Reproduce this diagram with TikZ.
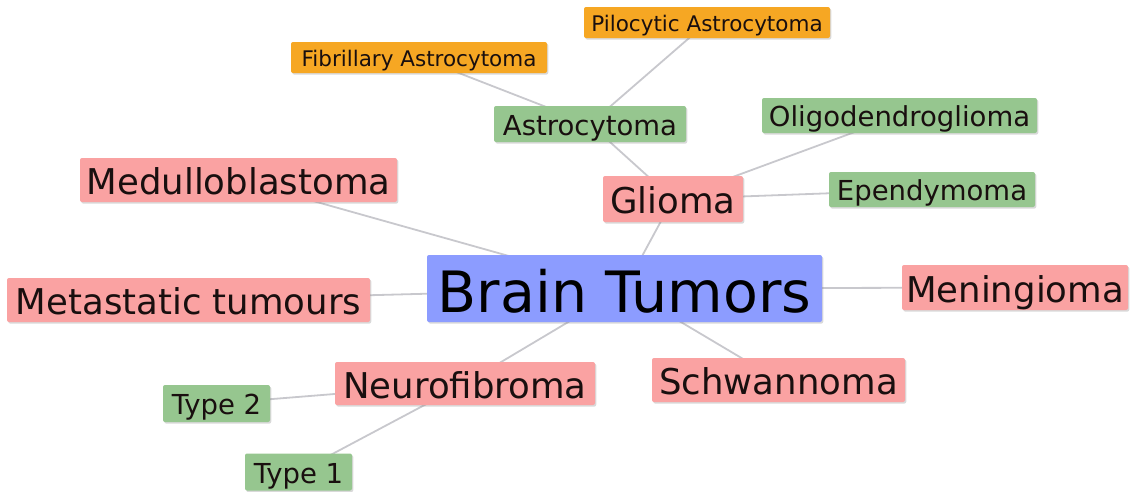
\documentclass[tikz,border=0pt]{standalone}
\usepackage{fontspec}
\setmainfont{DejaVu Sans}
\usetikzlibrary{shadows,backgrounds}
\definecolor{redbox}{RGB}{250,162,162}
\definecolor{greenbox}{RGB}{150,198,143}
\definecolor{orangebox}{RGB}{246,167,35}
\definecolor{bluebox}{RGB}{140,156,255}
\definecolor{edgegray}{RGB}{200,200,205}
\definecolor{txt}{RGB}{25,15,15}
\begin{document}
\begin{tikzpicture}[x=1pt,y=-1pt,
  box/.style={rounded corners=2pt, inner sep=0pt, text=txt, text depth=0pt,
    drop shadow={shadow xshift=1.3pt,shadow yshift=-1.6pt,opacity=0.3,fill=black!50}},
  rednode/.style={box, fill=redbox, font=\fontsize{35.5}{40}\selectfont, text height=29.5pt},
  greennode/.style={box, fill=greenbox, font=\fontsize{27.5}{32}\selectfont, text height=22.8pt},
  orangenode/.style={box, fill=orangebox, font=\fontsize{21.5}{25}\selectfont, text height=17.8pt},
  bluenode/.style={box, fill=bluebox, font=\fontsize{57}{64}\selectfont, text=black, text height=47.3pt},
  edge/.style={draw=edgegray, line width=1.8pt}]
\useasboundingbox (0,0) rectangle (1133,491);

\node[bluenode, minimum width=395pt, minimum height=67pt] (brain) at (624.5,288.5) {Brain Tumors};

\node[rednode, minimum width=140pt, minimum height=46pt] (glioma) at (673,199) {Glioma};
\node[rednode, minimum width=317pt, minimum height=44pt] (medu) at (238.5,180) {Medulloblastoma};
\node[rednode, minimum width=363pt, minimum height=44pt] (meta) at (188.5,300) {Metastatic tumours};
\node[rednode, minimum width=226pt, minimum height=45pt] (meni) at (1015,287.5) {Meningioma};
\node[rednode, minimum width=253pt, minimum height=44pt] (schw) at (778.5,380) {Schwannoma};
\node[rednode, minimum width=260pt, minimum height=43pt] (neuro) at (465,383.5) {Neurofibroma};

\node[greennode, minimum width=192pt, minimum height=36pt] (astro) at (590,124) {Astrocytoma};
\node[greennode, minimum width=275pt, minimum height=35pt] (oligo) at (899.5,115.5) {Oligodendroglioma};
\node[greennode, minimum width=206pt, minimum height=35pt] (epen) at (932,189.5) {Ependymoma};
\node[greennode, minimum width=107pt, minimum height=37pt] (type2) at (216.5,403.5) {Type 2};
\node[greennode, minimum width=107pt, minimum height=37pt] (type1) at (298.5,472) {Type 1};

\node[orangenode, minimum width=246pt, minimum height=31pt] (pilo) at (707,22.5) {Pilocytic Astrocytoma};
\node[orangenode, minimum width=256pt, minimum height=31pt] (fibr) at (419,57.5) {Fibrillary Astrocytoma};

\begin{pgfonlayer}{background}
\draw[edge] (brain.center) -- (glioma.center);
\draw[edge] (brain.center) -- (medu.center);
\draw[edge] (brain.center) -- (meta.center);
\draw[edge] (brain.center) -- (meni.center);
\draw[edge] (brain.center) -- (schw.center);
\draw[edge] (brain.center) -- (neuro.center);
\draw[edge] (glioma.center) -- (astro.center);
\draw[edge] (glioma.center) -- (oligo.center);
\draw[edge] (glioma.center) -- (epen.center);
\draw[edge] (astro.center) -- (pilo.center);
\draw[edge] (astro.center) -- (fibr.center);
\draw[edge] (neuro.center) -- (type2.center);
\draw[edge] (neuro.center) -- (type1.center);
\end{pgfonlayer}
\end{tikzpicture}
\end{document}
